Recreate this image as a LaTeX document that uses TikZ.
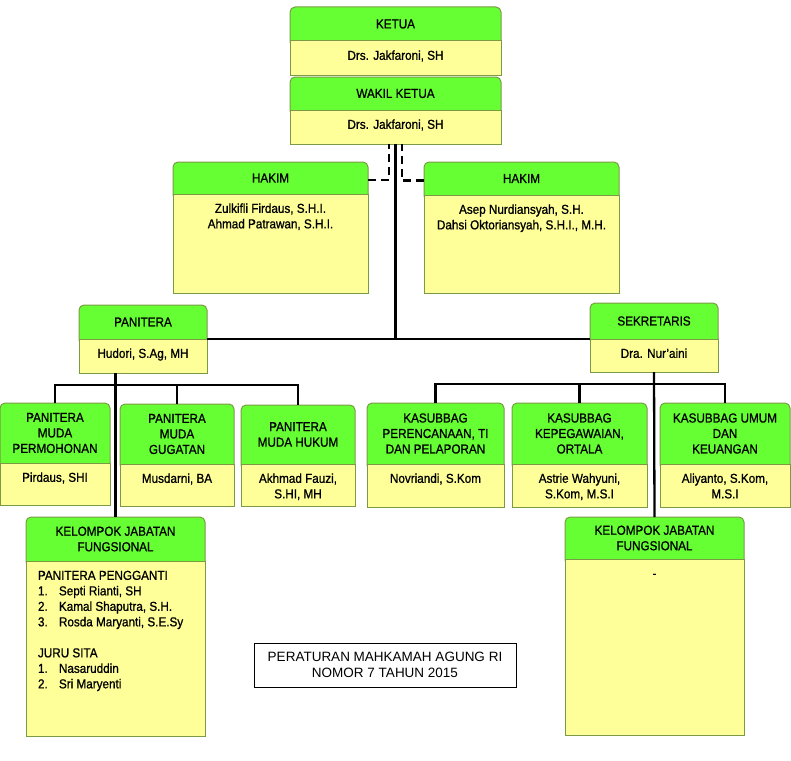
\documentclass[tikz,border=0pt]{standalone}
\usepackage{fontspec}
\setmainfont{Liberation Sans}[FakeStretch=0.9, FakeBold=0.9]
\newfontfamily\notefont{Liberation Sans}
\usetikzlibrary{positioning,backgrounds}
\definecolor{hdrgreen}{HTML}{66FF33}
\definecolor{bodyyellow}{HTML}{FFFF99}
\definecolor{boxline}{HTML}{7C9A46}
\newcommand{\bx}[3]{\parbox[c][#2pt][t]{#1pt}{\centering\vspace*{8pt}\strut#3}}
\newcommand{\itm}[2]{\makebox[21pt][l]{#1}#2}

\begin{document}
\begin{tikzpicture}[
  x=1pt, y=-1pt,
  font=\fontsize{13}{15.5}\selectfont,
  hdr/.style={anchor=north west, align=center, inner sep=1pt, outer sep=0pt},
  hdrbg/.style={fill=hdrgreen, draw=boxline, line width=1pt, rounded corners=5pt},
  bdy/.style={fill=bodyyellow, draw=boxline, line width=1pt, inner sep=0pt, outer sep=0pt},
  conn/.style={line width=2.3pt, black},
  dashconn/.style={conn, dash pattern=on 8pt off 5pt},
  note/.style={draw, line width=0.8pt, align=center, minimum width=262pt, minimum height=44pt,
    font=\notefont\fontsize{13.5}{16}\selectfont}
]
\useasboundingbox (0,0) rectangle (791,760);

% pimpinan
\node[hdr, minimum width=211pt, minimum height=34pt] (ketua) at (290,7) {KETUA};
\node[bdy, below=0pt of ketua] (ketua-b) {\bx{211}{34}{Drs. Jakfaroni, SH}};
\node[hdr, minimum width=211pt, minimum height=33pt] (wakil) at (290,77) {WAKIL KETUA};
\node[bdy, below=0pt of wakil] (wakil-b) {\bx{211}{34}{Drs. Jakfaroni, SH}};

% hakim
\node[hdr, minimum width=195pt, minimum height=32pt] (hakimL) at (173,162) {HAKIM};
\node[bdy, below=0pt of hakimL] (hakimL-b) {\bx{195}{99}{Zulkifli Firdaus, S.H.I.\\Ahmad Patrawan, S.H.I.}};
\node[hdr, minimum width=195pt, minimum height=33pt] (hakimR) at (424,162) {HAKIM};
\node[bdy, below=0pt of hakimR] (hakimR-b) {\bx{195}{98}{Asep Nurdiansyah, S.H.\\Dahsi Oktoriansyah, S.H.I., M.H.}};

% panitera / sekretaris
\node[hdr, minimum width=128pt, minimum height=34pt] (panitera) at (79,305) {PANITERA};
\node[bdy, below=0pt of panitera] (panitera-b) {\bx{128}{34}{Hudori, S.Ag, MH}};
\node[hdr, minimum width=128pt, minimum height=36pt] (sekretaris) at (590,303) {SEKRETARIS};
\node[bdy, below=0pt of sekretaris] (sekretaris-b) {\bx{128}{33}{Dra. Nur'aini}};

% panitera muda
\node[hdr, minimum width=110pt, minimum height=60pt] (pmp) at (0,403) {PANITERA\\MUDA\\PERMOHONAN};
\node[bdy, below=0pt of pmp] (pmp-b) {\bx{110}{42}{Pirdaus, SHI}};
\node[hdr, minimum width=114pt, minimum height=60pt] (pmg) at (120,404) {PANITERA\\MUDA\\GUGATAN};
\node[bdy, below=0pt of pmg] (pmg-b) {\bx{114}{42}{Musdarni, BA}};
\node[hdr, minimum width=114pt, minimum height=59pt] (pmh) at (241,405) {PANITERA\\MUDA HUKUM};
\node[bdy, below=0pt of pmh] (pmh-b) {\bx{114}{42}{Akhmad Fauzi,\\S.HI, MH}};

% kasubbag
\node[hdr, minimum width=137pt, minimum height=61pt] (kperen) at (367,403) {KASUBBAG\\PERENCANAAN, TI\\DAN PELAPORAN};
\node[bdy, below=0pt of kperen] (kperen-b) {\bx{137}{43}{Novriandi, S.Kom}};
\node[hdr, minimum width=135pt, minimum height=61pt] (kpeg) at (512,403) {KASUBBAG\\KEPEGAWAIAN,\\ORTALA};
\node[bdy, below=0pt of kpeg] (kpeg-b) {\bx{135}{43}{Astrie Wahyuni,\\S.Kom, M.S.I}};
\node[hdr, minimum width=130pt, minimum height=61pt] (kumum) at (660,403) {KASUBBAG UMUM\\DAN\\KEUANGAN};
\node[bdy, below=0pt of kumum] (kumum-b) {\bx{130}{43}{Aliyanto, S.Kom,\\M.S.I}};

% fungsional
\node[hdr, minimum width=179pt, minimum height=44pt] (jfL) at (26,517) {KELOMPOK JABATAN\\FUNGSIONAL};
\node[bdy, below=0pt of jfL] (jfL-b) {\parbox[c][175pt][t]{179pt}{\raggedright\leftskip=12pt
  \vspace*{8pt}\strut PANITERA PENGGANTI\\
  \itm{1.}{Septi Rianti, SH}\\
  \itm{2.}{Kamal Shaputra, S.H.}\\
  \itm{3.}{Rosda Maryanti, S.E.Sy}\\[15.5pt]
  JURU SITA\\
  \itm{1.}{Nasaruddin}\\
  \itm{2.}{Sri Maryenti}}};
\node[hdr, minimum width=179pt, minimum height=42pt] (jfR) at (565,517) {KELOMPOK JABATAN\\FUNGSIONAL};
\node[bdy, below=0pt of jfR] (jfR-b) {\bx{179}{176}{-}};

\node[note] (pma) at (385,665) {PERATURAN MAHKAMAH AGUNG RI\\NOMOR 7 TAHUN 2015};

% header backgrounds
\begin{scope}[on background layer]
\foreach \n in {ketua,wakil,hakimL,hakimR,panitera,sekretaris,pmp,pmg,pmh,kperen,kpeg,kumum,jfL,jfR}
  \draw[hdrbg] ([yshift=-6pt]\n.south west) rectangle (\n.north east);
\end{scope}

% garis
\draw[conn] (wakil-b.south) -- (wakil-b.south |- panitera.south east);
\draw[dashconn] ([yshift=-2pt]hakimL.east) -| ([xshift=-6.5pt]wakil-b.south);
\draw[dashconn] ([yshift=-2pt]hakimR.west) -| ([xshift=6.5pt]wakil-b.south);
\draw[conn] (panitera.south east) -- (sekretaris.south west);
\draw[conn] (panitera-b.south -| jfL.north) -- (jfL.north);
\draw[conn] (pmp.north) -- ([yshift=18pt]pmp.north) -| (pmh.north);
\draw[conn] (pmg.north) -- ([yshift=18pt]pmg.north |- pmp.north);
\draw[conn] (sekretaris-b.south) -- (jfR.north);
\draw[conn] (kperen.north) -- ([yshift=19pt]kperen.north) -| (kumum.north);
\draw[conn] (kpeg.north) -- ([yshift=19pt]kpeg.north);
\end{tikzpicture}
\end{document}
